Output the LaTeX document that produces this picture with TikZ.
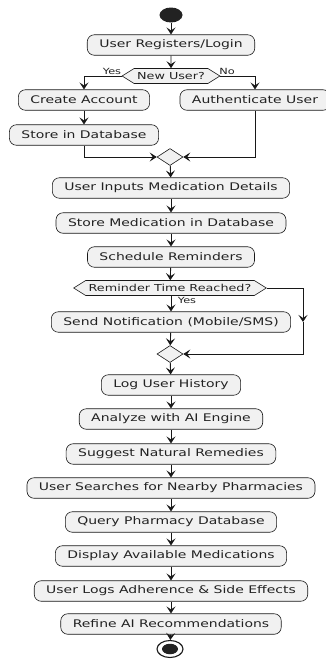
\documentclass[tikz,border=0pt]{standalone}
\usepackage{fontspec}
\newfontfamily\umlfont[FakeStretch=1.33]{DejaVu Sans}
\usetikzlibrary{arrows.meta,positioning,shapes.geometric,shapes.symbols}
\definecolor{actfill}{HTML}{F1F1F1}
\definecolor{umlline}{HTML}{181818}
\definecolor{umldark}{HTML}{222222}

\begin{document}
\begin{tikzpicture}[>={Stealth[length=7pt,width=9pt,inset=3pt]},x=1pt,y=-1pt]
	\tikzset{activity/.style = {draw=umlline,line width=0.6pt,fill=actfill,rounded corners=7pt,minimum height=20.5pt,inner xsep=12pt,inner ysep=2pt,font=\umlfont\fontsize{10.5pt}{12pt}\selectfont,text=umldark}}
	\tikzset{decision/.style = {draw=umlline,line width=0.6pt,fill=actfill,signal,signal to=west and east,signal pointer angle=64,minimum height=15pt,inner xsep=3pt,inner ysep=1pt,font=\umlfont\fontsize{9.6pt}{11pt}\selectfont,text=umldark}}
	\tikzset{merge/.style = {draw=umlline,line width=0.6pt,fill=actfill,diamond,minimum width=26pt,minimum height=17pt,inner sep=0pt}}
	\tikzset{guard/.style = {inner sep=0pt,font=\umlfont\fontsize{8.5pt}{10pt}\selectfont,text=umldark}}
	\tikzset{flow/.style = {->,draw=umlline,line width=0.9pt}}
	\useasboundingbox (0,0) rectangle (326,662);

	% start and login
	\node[ellipse,fill=umldark,minimum width=23pt,minimum height=15pt,inner sep=0pt] (start) at (171,15) {};
	\node[activity] (login) at (171,45) {User Registers/Login};
	\node[decision] (newuser) at (171,76) {New User?};
	\node[guard] (yesA) at (112,71) {Yes};
	\node[guard] (noA) at (227,71) {No};
	\node[activity] (create) at (84,100) {Create Account};
	\node[activity] (storeuser) at (84,135) {Store in Database};
	\node[activity] (auth) at (255,100) {Authenticate User};
	\node[merge] (mergeA) at (170,157) {};

	% medication and reminders
	\node[activity] (inputs) at (171,188) {User Inputs Medication Details};
	\node[activity] (storemed) at (171,223) {Store Medication in Database};
	\node[activity] (schedule) at (171,257) {Schedule Reminders};
	\node[decision] (reached) at (170,288) {Reminder Time Reached?};
	\node[guard] (yesB) at (187,300) {Yes};
	\node[activity] (notify) at (171,322) {Send Notification (Mobile/SMS)};
	\node[merge] (mergeB) at (170,354) {};
	\coordinate (loopR) at (303,322);

	% history, AI and pharmacies
	\node[activity] (history) at (171,385) {Log User History};
	\node[activity] (analyze) at (171,419) {Analyze with AI Engine};
	\node[activity] (remedies) at (171,454) {Suggest Natural Remedies};
	\node[activity] (search) at (171,488) {User Searches for Nearby Pharmacies};
	\node[activity] (query) at (171,522) {Query Pharmacy Database};
	\node[activity] (display) at (171,556) {Display Available Medications};
	\node[activity] (adhere) at (171,591) {User Logs Adherence \& Side Effects};
	\node[activity] (refine) at (171,624) {Refine AI Recommendations};
	\node[ellipse,draw=umlline,line width=1.1pt,fill=white,minimum width=26pt,minimum height=17pt,inner sep=0pt] (stop) at (170,649) {};
	\node[ellipse,fill=umldark,minimum width=16pt,minimum height=10.5pt,inner sep=0pt] (stopdot) at (stop) {};

	% edges
	\draw[flow] (start) -- (login);
	\draw[flow] (login) -- (newuser);
	\draw[flow] (newuser.west) -| (create.north);
	\draw[flow] (newuser.east) -| (auth.north);
	\draw[flow] (create) -- (storeuser);
	\draw[flow] (storeuser.south) |- (mergeA.west);
	\draw[flow] (auth.south) |- (mergeA.east);
	\draw[flow] (mergeA) -- (inputs);
	\draw[flow] (inputs) -- (storemed);
	\draw[flow] (storemed) -- (schedule);
	\draw[flow] (schedule) -- (reached);
	\draw[flow] (reached.south -| notify.north) -- (notify.north);
	\draw[flow] (reached.east) -| (loopR);
	\draw[flow] (loopR) |- (mergeB.east);
	\draw[flow] (notify) -- (mergeB);
	\draw[flow] (mergeB) -- (history);
	\draw[flow] (history) -- (analyze);
	\draw[flow] (analyze) -- (remedies);
	\draw[flow] (remedies) -- (search);
	\draw[flow] (search) -- (query);
	\draw[flow] (query) -- (display);
	\draw[flow] (display) -- (adhere);
	\draw[flow] (adhere) -- (refine);
	\draw[flow] (refine) -- (stop);
\end{tikzpicture}
\end{document}
